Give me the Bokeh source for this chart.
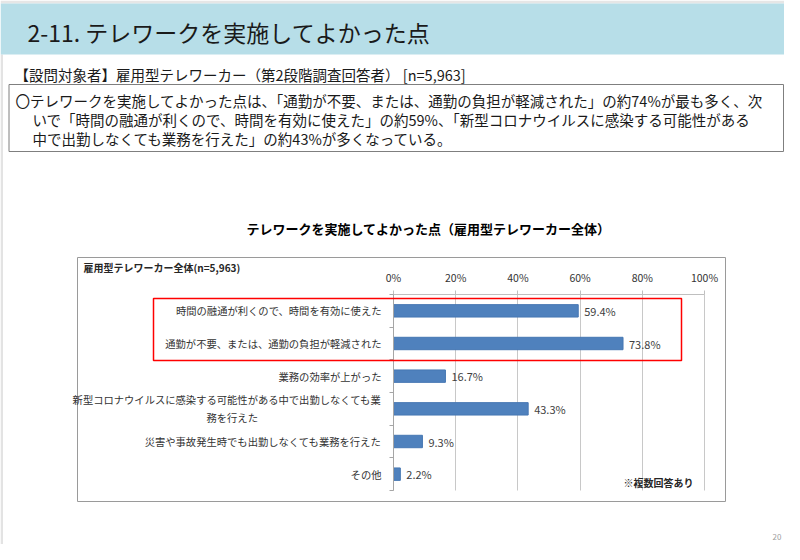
from bokeh.plotting import figure
from bokeh.models import (ColumnDataSource, Range1d, Label, LabelSet, LinearAxis,
                          BoxAnnotation, FixedTicker, Grid)
from bokeh.core.properties import value
from bokeh.embed import file_html
from bokeh.resources import INLINE

# ---------------- data ----------------
categories = [
    "時間の融通が利くので、時間を有効に使えた",
    "通勤が不要、または、通勤の負担が軽減された",
    "業務の効率が上がった",
    "新型コロナウイルスに感染する可能性がある中で出勤しなくても業務を行えた",
    "災害や事故発生時でも出勤しなくても業務を行えた",
    "その他",
]
values = [59.4, 73.8, 16.7, 43.3, 9.3, 2.2]
x_ticks = [0, 20, 40, 60, 80, 100]
x_tick_labels = ["0%", "20%", "40%", "60%", "80%", "100%"]

slide_title = "2-11. テレワークを実施してよかった点"
subtitle = "【設問対象者】雇用型テレワーカー（第2段階調査回答者） [n=5,963]"
summary_lines = [
    "〇テレワークを実施してよかった点は、「通勤が不要、または、通勤の負担が軽減された」の約74%が最も多く、次",
    "いで「時間の融通が利くので、時間を有効に使えた」の約59%、「新型コロナウイルスに感染する可能性がある",
    "中で出勤しなくても業務を行えた」の約43%が多くなっている。",
]
chart_title = "テレワークを実施してよかった点（雇用型テレワーカー全体）"
group_label = "雇用型テレワーカー全体(n=5,963)"
note = "※複数回答あり"
page_no = "20"

FONT = "Noto Sans CJK JP"

# ---------------- geometry (page pixels) ----------------
W, H = 784, 544
AX_L, AX_R = 393, 704        # 0% and 100% positions
AX_T, AX_B = 294, 490        # top / bottom of category band
n = len(categories)
px_per_pct = (AX_R - AX_L) / 100
row_px = (AX_B - AX_T) / n

def sx(x):   # page x -> screen units (frame = whole canvas)
    return x
def sy(y):   # page y -> screen units (measured upward from the bottom)
    return H - y
def dy(y):   # page y -> data y
    return (AX_B - y) / row_px
def dx(x):   # page x -> data x
    return (x - AX_L) / px_per_pct

p = figure(width=W, height=H, output_backend="svg", toolbar_location=None,
           x_range=Range1d(dx(0), dx(W)), y_range=Range1d(dy(H), dy(0)),
           x_axis_location=None, y_axis_location=None,
           min_border_left=0, min_border_right=0, min_border_top=0, min_border_bottom=0)
p.outline_line_color = None
p.background_fill_color = "white"
p.border_fill_color = "white"
p.grid.visible = False

# ---------------- slide decorations ----------------
def box(l, r, t, b, **kw):
    return BoxAnnotation(left=sx(l), right=sx(r), top=sy(t), bottom=sy(b),
                         left_units="screen", right_units="screen", top_units="screen",
                         bottom_units="screen", level="underlay", **kw)

p.add_layout(box(0, W, 0, 3, fill_color="#e6e6e6", fill_alpha=1, line_color=None))
p.add_layout(box(0, 2.5, 54, H, fill_color="#e3e3e3", fill_alpha=1, line_color=None))
p.add_layout(box(0, W, 3, 54, fill_color="#b7dee8", fill_alpha=1, line_color=None))
p.add_layout(box(8.5, 783, 84, 151, fill_alpha=0, line_color="#7f7f7f", line_alpha=1, line_width=1))
p.add_layout(box(77, 725, 257, 501, fill_alpha=0, line_color="#9a9a9a", line_alpha=1, line_width=1))

def lab(x, y, text, size, **kw):
    opts = dict(text_font=FONT, text_color="#1a1a1a", text_baseline="middle")
    opts.update(kw)
    return Label(x=sx(x), y=sy(y), x_units="screen", y_units="screen", text=text,
                 text_font_size=size, **opts)

p.add_layout(lab(27, 31, slide_title, "23px"))
p.add_layout(lab(14, 74, subtitle, "14.5px"))
for i, (ln, xx) in enumerate(zip(summary_lines, [15, 32, 32])):
    p.add_layout(lab(xx, 100 + i * 19, ln, "14.5px"))
p.add_layout(lab(428, 228, chart_title, "13px", text_font_style="bold", text_color="#000000",
                 text_align="center"))
p.add_layout(lab(83, 267, group_label, "10px", text_font_style="bold", text_color="#262626"))
p.add_layout(lab(623, 482, note, "10px", text_font_style="bold", text_color="#262626"))
p.add_layout(lab(781, 536, page_no, "8px", text_color="#a0a0a0", text_align="right"))

# ---------------- axes (fixed inside the frame) ----------------
xa = LinearAxis(fixed_location=n, bounds=(0, 100), ticker=FixedTicker(ticks=x_ticks))
xa.major_label_overrides = {t: l for t, l in zip(x_ticks, x_tick_labels)}
xa.axis_line_color = "#bfbfbf"
xa.major_tick_line_color = "#bfbfbf"
xa.major_tick_out = 4
xa.major_tick_in = 0
xa.minor_tick_line_color = None
xa.major_label_standoff = 6
xa.major_label_text_font = FONT
xa.major_label_text_font_size = "10.5px"
xa.major_label_text_color = "#333333"
p.add_layout(xa, "above")

y_pos = [n - i - 0.5 for i in range(n)]
ya = LinearAxis(fixed_location=0, bounds=(0, n),
                ticker=FixedTicker(ticks=y_pos, minor_ticks=list(range(n + 1))))
ya.major_label_overrides = {y: c for y, c in zip(y_pos, categories)}
# wrapped label: second line centred under the first (padded with ideographic spaces)
ya.major_label_overrides[y_pos[3]] = ("新型コロナウイルスに感染する可能性がある中で出勤しなくても業\n"
                                      "務を行えた" + "\u3000" * 12)
ya.axis_line_color = "#a6a6a6"
ya.major_tick_line_color = None
ya.major_tick_out = 0
ya.major_tick_in = 0
ya.minor_tick_line_color = "#a6a6a6"
ya.minor_tick_out = 4
ya.minor_tick_in = 0
ya.major_label_standoff = 8
ya.major_label_text_font = FONT
ya.major_label_text_font_size = "10.3px"
ya.major_label_text_color = "#333333"
p.add_layout(ya, "left")

g = Grid(dimension=0, ticker=xa.ticker, grid_line_color="#c8c8c8", bounds=(0, 100))
try:
    g.cross_bounds = (0, n)
except AttributeError:
    pass
p.add_layout(g)

# ---------------- bars ----------------
src = ColumnDataSource(dict(y=y_pos, val=values, lbl=[f"{v:.1f}%" for v in values]))
p.hbar(y="y", right="val", left=0, height=0.38, source=src,
       fill_color="#4f81bd", line_color="#4677b3", line_width=1)
p.add_layout(LabelSet(x="val", y="y", text="lbl", source=src, x_offset=6,
                      text_font=value(FONT), text_font_size="11px", text_color="#404040",
                      text_baseline="middle"))

# highlight box around the two top items
p.add_layout(BoxAnnotation(left=dx(153), right=dx(681), top=dy(298), bottom=dy(360),
                           fill_alpha=0, line_color="#ff0000", line_alpha=1, line_width=1.5))

open("out.html", "w").write(file_html(p, INLINE))
